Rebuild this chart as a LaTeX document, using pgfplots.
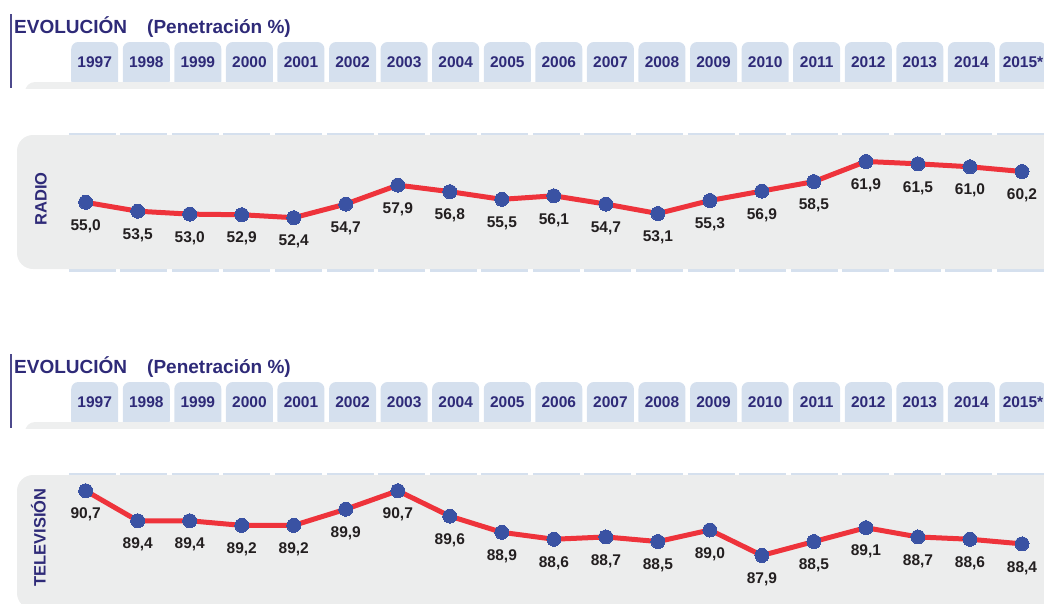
\documentclass[border=0pt]{standalone}
\usepackage{pgfplots}
\pgfplotsset{compat=1.18}
\usepackage{fontspec}
\setmainfont{Liberation Sans}
\definecolor{titleblue}{HTML}{2E2A78}
\definecolor{tabblue}{HTML}{D5E0EE}
\definecolor{panelgray}{HTML}{ECEDED}
\definecolor{bandgray}{HTML}{EEEFEF}
\definecolor{linered}{HTML}{EE333B}
\definecolor{markblue}{HTML}{3A52A3}
\definecolor{labelblack}{HTML}{231F20}
\newcommand{\tabfont}{\fontsize{15.5}{18}\selectfont\bfseries}
\newcommand{\datafont}{\fontsize{15.5}{18}\selectfont\bfseries}
\newcommand{\titlefont}{\fontsize{19}{22}\selectfont\bfseries}
\newcommand{\sidefont}{\fontsize{16.5}{19}\selectfont\bfseries}
\pgfplotstableread{
x y
0 55.0
1 53.5
2 53.0
3 52.9
4 52.4
5 54.7
6 57.9
7 56.8
8 55.5
9 56.1
10 54.7
11 53.1
12 55.3
13 56.9
14 58.5
15 61.9
16 61.5
17 61.0
18 60.2
}\radiodata
\pgfplotstableread{
x y
0 90.7
1 89.4
2 89.4
3 89.2
4 89.2
5 89.9
6 90.7
7 89.6
8 88.9
9 88.6
10 88.7
11 88.5
12 89.0
13 87.9
14 88.5
15 89.1
16 88.7
17 88.6
18 88.4
}\tvdata
\pgfplotsset{
  tabaxis/.style={
    anchor=south west, scale only axis, width=928.3pt, height=1pt,
    xmin=0, xmax=18, ymin=0, ymax=1,
    axis line style={draw=none}, major tick length=0pt, ytick=\empty,
    xtick={0,...,18},
    xticklabels={1997,1998,1999,2000,2001,2002,2003,2004,2005,2006,2007,2008,2009,2010,2011,2012,2013,2014,2015*},
    xticklabel style={anchor=center, font=\tabfont, text=titleblue, inner sep=0pt},
  },
  dataaxis/.style={
    anchor=south west, scale only axis, width=936.3pt,
    xmin=0, xmax=18, axis lines=none, clip=false,
    nodes near coords,
    every node near coord/.append style={anchor=center, yshift=-24pt, font=\datafont, text=labelblack},
    /pgf/number format/.cd, fixed, fixed zerofill, precision=1, use comma, assume math mode=true,
  },
  dataline/.style={linered, line width=5pt, line join=round, mark=*, mark size=7pt,
    mark options={fill=markblue, draw=markblue, line width=0pt}},
}
\begin{document}
\begin{tikzpicture}[x=1pt,y=-1pt]
\path[use as bounding box] (0,0) rectangle (1044,603);
\foreach \off in {0,340} {
  % tabs
  \foreach \i in {0,...,18} {
    \pgfmathsetmacro{\xc}{94.7+51.57*\i}
    \fill[tabblue, rounded corners=7pt] (\xc-23.5,42+\off) rectangle (\xc+23.5,88+\off);
    \fill[tabblue] (\xc-26,133+\off) rectangle (\xc+21,137+\off);
    \fill[tabblue] (\xc-26,266+\off) rectangle (\xc+21,271.5+\off);
  }
  % band
  \begin{scope}
    \clip (0,82+\off) rectangle (1044,88+\off);
    \fill[bandgray, rounded corners=10pt] (25,82+\off) rectangle (1070,120+\off);
  \end{scope}
  % panel
  \fill[panelgray, rounded corners=16pt] (17,135+\off) rectangle (1075,269+\off);
  % vertical rule
  \draw[titleblue!85, line width=1.3pt] (11,14+\off) -- (11,88+\off);
  % titles
  \node[anchor=base west, inner sep=0pt, font=\titlefont, text=titleblue] at (14,33.3+\off) {EVOLUCIÓN};
  \node[anchor=base west, inner sep=0pt, font=\titlefont, text=titleblue] at (147,33.3+\off) {(Penetración \%)};
}
\node[rotate=90, font=\sidefont, text=titleblue, inner sep=0pt] at (41,199) {RADIO};
\node[rotate=90, font=\sidefont, text=titleblue, inner sep=0pt] at (38.5,537.5) {TELEVISIÓN};

\begin{axis}[tabaxis, at={(94.7pt,-62.5pt)}]
\addplot[draw=none, forget plot] coordinates {(0,0) (18,1)};
\end{axis}
\begin{axis}[tabaxis, at={(94.7pt,-402.5pt)}]
\addplot[draw=none, forget plot] coordinates {(0,0) (18,1)};
\end{axis}

\begin{axis}[dataaxis, at={(85.7pt,-261.5pt)}, height=118.4pt, ymin=45, ymax=65]
\addplot[dataline] table[x=x, y=y] {\radiodata};
\end{axis}
\begin{axis}[dataaxis, at={(85.7pt,-599.3pt)}, height=138.6pt, ymin=86, ymax=92]
\addplot[dataline] table[x=x, y=y] {\tvdata};
\end{axis}
\end{tikzpicture}
\end{document}
